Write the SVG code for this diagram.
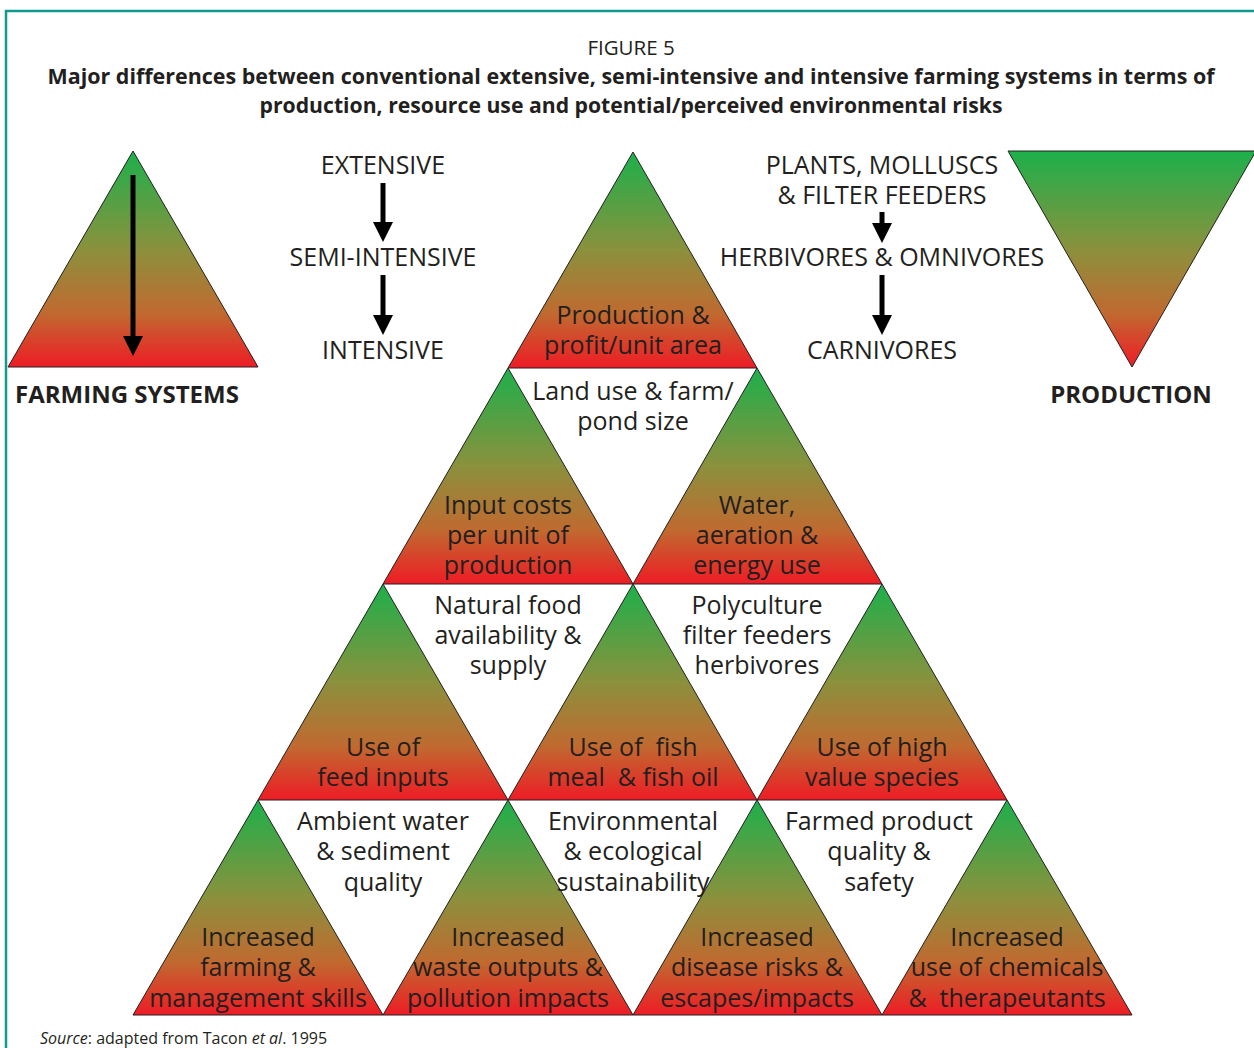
<svg xmlns="http://www.w3.org/2000/svg" width="1254" height="1048" viewBox="0 0 1254 1048">
<style>
  .t { font-family: "Open Sans", "Noto Sans", "Liberation Sans", sans-serif; fill: #231f20; text-anchor: middle; }
  .lbl { font-size: 25px; }
  .cap { font-size: 25px; }
  .hd { font-size: 24px; font-weight: bold; }
  .tri { fill: url(#grad); stroke: #231f20; stroke-width: 1; }
  .arr { stroke: #000; stroke-width: 5; fill: none; }
</style>
<defs>
  <linearGradient id="grad" x1="0" y1="0" x2="0" y2="1">
    <stop offset="0" stop-color="#1cb04b"/>
    <stop offset="0.45" stop-color="#8a913d"/>
    <stop offset="0.75" stop-color="#c06a30"/>
    <stop offset="1" stop-color="#ee1c25"/>
  </linearGradient>
  <marker id="head" markerUnits="userSpaceOnUse" markerWidth="20" markerHeight="20" refX="0" refY="10" orient="auto" viewBox="0 0 20 20">
    <path d="M0,0 L20,10 L0,20 z" fill="#000"/>
  </marker>
</defs>
<rect x="6" y="11" width="1270" height="1060" fill="none" stroke="#139a90" stroke-width="2.5"/>

<g id="title">
  <text class="t" x="631" y="55" style="font-size:20.5px">FIGURE 5</text>
  <text class="t" x="631" y="84" style="font-size:21px;font-weight:bold" textLength="1167" lengthAdjust="spacingAndGlyphs">Major differences between conventional extensive, semi-intensive and intensive farming systems in terms of</text>
  <text class="t" x="631" y="113" style="font-size:21px;font-weight:bold" textLength="743" lengthAdjust="spacingAndGlyphs">production, resource use and potential/perceived environmental risks</text>
</g>

<g id="farming-systems">
  <polygon class="tri" points="133,151 258,367 8,367"/>
  <text class="t hd" x="15" y="403" style="text-anchor:start">FARMING SYSTEMS</text>
</g>
<g id="production">
  <polygon class="tri" points="1008,151 1256,151 1132,367"/>
  <text class="t hd" x="1131" y="403">PRODUCTION</text>
</g>

<g id="system-labels">
  <text class="t cap" x="383" y="174">EXTENSIVE</text>
  <text class="t cap" x="383" y="266">SEMI-INTENSIVE</text>
  <text class="t cap" x="383" y="359">INTENSIVE</text>
</g>
<g id="species-labels">
  <text class="t cap" x="882" y="174">PLANTS, MOLLUSCS</text>
  <text class="t cap" x="882" y="204">&amp; FILTER FEEDERS</text>
  <text class="t cap" x="882" y="266">HERBIVORES &amp; OMNIVORES</text>
  <text class="t cap" x="882" y="359">CARNIVORES</text>
</g>

<g id="connectors">
  <line class="arr" x1="133" y1="175" x2="133" y2="336" marker-end="url(#head)"/>
  <line class="arr" x1="383" y1="183" x2="383" y2="222" marker-end="url(#head)"/>
  <line class="arr" x1="383" y1="275" x2="383" y2="315" marker-end="url(#head)"/>
  <line class="arr" x1="882" y1="212" x2="882" y2="223" marker-end="url(#head)"/>
  <line class="arr" x1="882" y1="275" x2="882" y2="315" marker-end="url(#head)"/>
</g>

<g id="pyramid">
  <g id="t-production">
    <polygon class="tri" points="633,152 757,368 508,368"/>
    <text class="t lbl" x="633" y="324">Production &amp;</text>
    <text class="t lbl" x="633" y="354">profit/unit area</text>
  </g>
  <g id="t-input-costs">
    <polygon class="tri" points="508,368 633,584 383,584"/>
    <text class="t lbl" x="508" y="514">Input costs</text>
    <text class="t lbl" x="508" y="544">per unit of</text>
    <text class="t lbl" x="508" y="574">production</text>
  </g>
  <g id="t-water">
    <polygon class="tri" points="757,368 882,584 633,584"/>
    <text class="t lbl" x="757" y="514">Water,</text>
    <text class="t lbl" x="757" y="544">aeration &amp;</text>
    <text class="t lbl" x="757" y="574">energy use</text>
  </g>
  <g id="i-land-use">
    <text class="t lbl" x="633" y="400">Land use &amp; farm/</text>
    <text class="t lbl" x="633" y="430">pond size</text>
  </g>
  <g id="t-feed">
    <polygon class="tri" points="383,584 508,800 258,800"/>
    <text class="t lbl" x="383" y="756">Use of</text>
    <text class="t lbl" x="383" y="786">feed inputs</text>
  </g>
  <g id="t-fishmeal">
    <polygon class="tri" points="633,584 757,800 508,800"/>
    <text class="t lbl" x="633" y="756" xml:space="preserve">Use of  fish</text>
    <text class="t lbl" x="633" y="786" xml:space="preserve">meal  &amp; fish oil</text>
  </g>
  <g id="t-high-value">
    <polygon class="tri" points="882,584 1007,800 757,800"/>
    <text class="t lbl" x="882" y="756">Use of high</text>
    <text class="t lbl" x="882" y="786">value species</text>
  </g>
  <g id="i-natural-food">
    <text class="t lbl" x="508" y="614">Natural food</text>
    <text class="t lbl" x="508" y="644">availability &amp;</text>
    <text class="t lbl" x="508" y="674">supply</text>
  </g>
  <g id="i-polyculture">
    <text class="t lbl" x="757" y="614">Polyculture</text>
    <text class="t lbl" x="757" y="644">filter feeders</text>
    <text class="t lbl" x="757" y="674">herbivores</text>
  </g>
  <g id="t-skills">
    <polygon class="tri" points="258,800 383,1015 133,1015"/>
    <text class="t lbl" x="258" y="946">Increased</text>
    <text class="t lbl" x="258" y="976">farming &amp;</text>
    <text class="t lbl" x="258" y="1007">management skills</text>
  </g>
  <g id="t-waste">
    <polygon class="tri" points="508,800 633,1015 383,1015"/>
    <text class="t lbl" x="508" y="946">Increased</text>
    <text class="t lbl" x="508" y="976">waste outputs &amp;</text>
    <text class="t lbl" x="508" y="1007">pollution impacts</text>
  </g>
  <g id="t-disease">
    <polygon class="tri" points="757,800 882,1015 633,1015"/>
    <text class="t lbl" x="757" y="946">Increased</text>
    <text class="t lbl" x="757" y="976">disease risks &amp;</text>
    <text class="t lbl" x="757" y="1007">escapes/impacts</text>
  </g>
  <g id="t-chemicals">
    <polygon class="tri" points="1007,800 1132,1015 882,1015"/>
    <text class="t lbl" x="1007" y="946">Increased</text>
    <text class="t lbl" x="1007" y="976">use of chemicals</text>
    <text class="t lbl" x="1007" y="1007" xml:space="preserve">&amp;  therapeutants</text>
  </g>
  <g id="i-ambient">
    <text class="t lbl" x="383" y="830">Ambient water</text>
    <text class="t lbl" x="383" y="860">&amp; sediment</text>
    <text class="t lbl" x="383" y="891">quality</text>
  </g>
  <g id="i-environmental">
    <text class="t lbl" x="633" y="830">Environmental</text>
    <text class="t lbl" x="633" y="860">&amp; ecological</text>
    <text class="t lbl" x="633" y="891">sustainability</text>
  </g>
  <g id="i-farmed-product">
    <text class="t lbl" x="879" y="830">Farmed product</text>
    <text class="t lbl" x="879" y="860">quality &amp;</text>
    <text class="t lbl" x="879" y="891">safety</text>
  </g>
</g>

<text class="t" x="40" y="1044" style="font-size:16px;text-anchor:start"><tspan font-style="italic">Source</tspan>: adapted from Tacon <tspan font-style="italic">et al</tspan>. 1995</text>
</svg>
